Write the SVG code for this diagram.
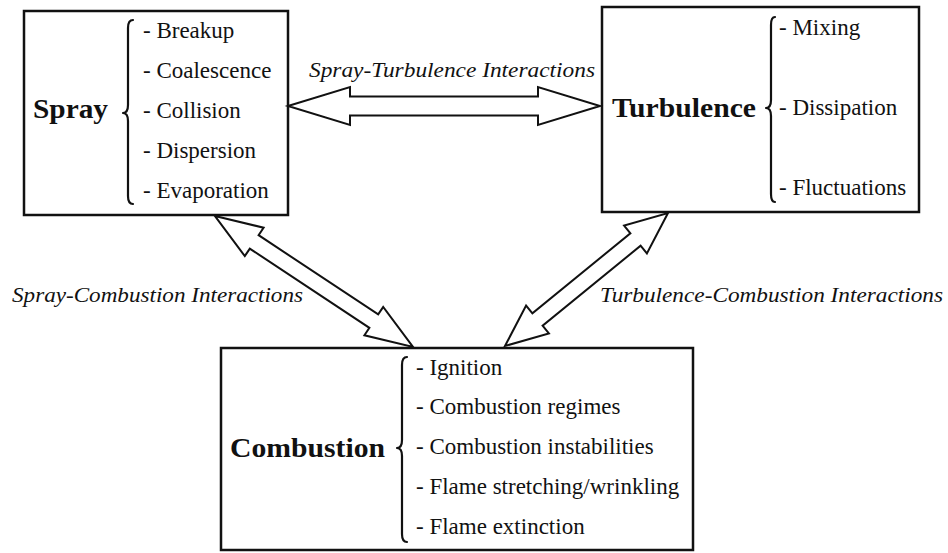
<svg xmlns="http://www.w3.org/2000/svg" width="948" height="553" viewBox="0 0 948 553">
<style>
.box{fill:#fff;stroke:#111;stroke-width:2.5}
.brace{fill:none;stroke:#111;stroke-width:2.2;stroke-linejoin:round;stroke-linecap:round}
.title{font-family:'Liberation Serif','Times New Roman','DejaVu Serif',serif;font-weight:bold;font-size:27px;fill:#111}
.item{font-family:'Liberation Serif','Times New Roman','DejaVu Serif',serif;font-size:23px;fill:#111}
.lbl{font-family:'Liberation Serif','Times New Roman','DejaVu Serif',serif;font-style:italic;font-size:22px;fill:#111}
.arrow{fill:#fff;stroke:#111;stroke-width:2;stroke-linejoin:miter}
</style>
<rect width="948" height="553" fill="#fff"/>
<g id="spray">
<rect class="box" x="24" y="11" width="264" height="204"/>
<text class="title" x="33" y="118" textLength="75" lengthAdjust="spacingAndGlyphs">Spray</text>
<path class="brace" d="M133 20 Q128 20 128 28 L128 105 Q128 113 123 113 Q128 113 128 121 L128 196 Q128 204 133 204"/>
<text class="item" x="143" y="38">- Breakup</text>
<text class="item" x="143" y="78">- Coalescence</text>
<text class="item" x="143" y="118">- Collision</text>
<text class="item" x="143" y="158">- Dispersion</text>
<text class="item" x="143" y="198">- Evaporation</text>
</g>
<g id="turbulence">
<rect class="box" x="602" y="7" width="317" height="205"/>
<text class="title" x="612" y="117" textLength="144" lengthAdjust="spacingAndGlyphs">Turbulence</text>
<path class="brace" d="M775 17 Q771 17 771 25 L771 100 Q771 108 766 108 Q771 108 771 116 L771 194 Q771 202 775 202"/>
<text class="item" x="779" y="35">- Mixing</text>
<text class="item" x="779" y="115">- Dissipation</text>
<text class="item" x="779" y="195">- Fluctuations</text>
</g>
<g id="combustion">
<rect class="box" x="221" y="348" width="472" height="202"/>
<text class="title" x="230" y="457" textLength="155" lengthAdjust="spacingAndGlyphs">Combustion</text>
<path class="brace" d="M407 357 Q402 357 402 365 L402 440 Q402 448 397 448 Q402 448 402 456 L402 534 Q402 542 407 542"/>
<text class="item" x="416" y="375">- Ignition</text>
<text class="item" x="416" y="414">- Combustion regimes</text>
<text class="item" x="416" y="454">- Combustion instabilities</text>
<text class="item" x="416" y="494">- Flame stretching/wrinkling</text>
<text class="item" x="416" y="534">- Flame extinction</text>
</g>
<g id="connectors">
<polygon class="arrow" points="288,106 350,87 350,96.5 538,96.5 538,87 600,106 538,125 538,115.5 350,115.5 350,125"/>
<polygon class="arrow" points="215,216 263.6,227.7 258.6,235.2 378.2,314.4 383.2,306.9 413,347 364.4,335.3 369.4,327.8 249.8,248.6 244.8,256.1"/>
<polygon class="arrow" points="668,213 646.9,253.4 640.6,245.7 542.6,325.7 548.9,333.4 505,346 526.1,305.6 532.4,313.3 630.4,233.3 624.1,225.6"/>
<text class="lbl" x="309" y="77" textLength="286" lengthAdjust="spacingAndGlyphs">Spray-Turbulence Interactions</text>
<text class="lbl" x="12" y="302" textLength="291" lengthAdjust="spacingAndGlyphs">Spray-Combustion Interactions</text>
<text class="lbl" x="600" y="302" textLength="343" lengthAdjust="spacingAndGlyphs">Turbulence-Combustion Interactions</text>
</g>
</svg>
